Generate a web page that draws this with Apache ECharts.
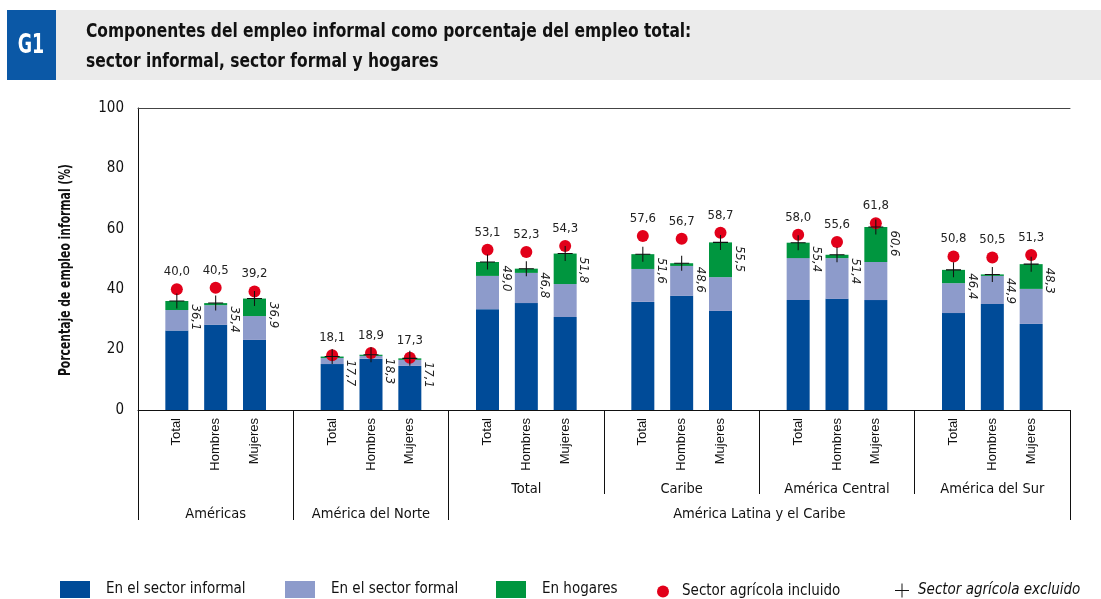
<!DOCTYPE html>
<html>
<head>
<meta charset="utf-8">
<script src="https://cdn.jsdelivr.net/npm/echarts@6/dist/echarts.min.js"></script>
<style>
  html, body { margin: 0; padding: 0; background: #fff; }
  #chart { width: 1101px; height: 599px; }
</style>
</head>
<body>
<div id="chart"></div>
<script>
// data, in group order: Total / Hombres / Mujeres for each region
const groups = ['Américas', 'América del Norte', 'Total', 'Caribe', 'América Central', 'América del Sur'];
const lacLabel = 'América Latina y el Caribe';
const subLabels = ['Total', 'Hombres', 'Mujeres'];

const informal = [26.3, 28.2, 23.2, 15.2, 17.0, 14.6, 33.4, 35.4, 30.8, 35.8, 37.8, 32.8, 36.4, 36.8, 36.4, 32.1, 35.1, 28.5];
const formal   = [6.8, 6.5, 7.9, 2.0, 0.9, 2.0, 11.0, 10.0, 10.9, 10.9, 9.9, 11.2, 13.9, 13.5, 12.6, 9.9, 9.3, 11.6];
const hogares  = [3.0, 0.7, 5.8, 0.5, 0.4, 0.5, 4.6, 1.4, 10.1, 4.9, 0.9, 11.5, 5.1, 1.1, 11.6, 4.4, 0.5, 8.2];
const agriIncl = [40.0, 40.5, 39.2, 18.1, 18.9, 17.3, 53.1, 52.3, 54.3, 57.6, 56.7, 58.7, 58.0, 55.6, 61.8, 50.8, 50.5, 51.3];
const agriExcl = [36.1, 35.4, 36.9, 17.7, 18.3, 17.1, 49.0, 46.8, 51.8, 51.6, 48.6, 55.5, 55.4, 51.4, 60.6, 46.4, 44.9, 48.3];

const yTicks = { min: 0, max: 100, interval: 20 };
const yTitle = 'Porcentaje de empleo informal (%)';

const COND = "'DejaVu Sans Condensed', 'Liberation Sans Narrow', sans-serif";
const C_INF = '#004b98';
const C_FOR = '#8d9bcb';
const C_HOG = '#00963f';
const C_RED = '#e2001a';
const PLUS = 'path://M0,9.3h20v1.4h-20z M9.3,0h1.4v20h-1.4z';

// slots: a blank slot before, between and after each group of three
const slots = [];
const level1 = [];
const level2 = [];
const level3 = [];
groups.forEach((g, gi) => {
  slots.push('gap' + gi); level1.push(''); level2.push(''); level3.push('');
  subLabels.forEach((s, si) => {
    slots.push(g + '|' + s);
    level1.push(s);
    level2.push(gi >= 2 && si === 1 ? g : '');
    level3.push(gi < 2 && si === 1 ? g : '');
  });
});
slots.push('end'); level1.push(''); level2.push(''); level3.push('');
level3[16] = lacLabel;
const bigTicks = [0, 4, 8, 24];
const smallTicks = [12, 16, 20];

function spread(vals) {
  const out = [];
  let k = 0;
  slots.forEach((s, i) => {
    if (i % 4 === 0) out.push('-');
    else out.push(vals[k++]);
  });
  return out;
}
const fmt = v => v.toFixed(1).replace('.', ',');

const chart = echarts.init(document.getElementById('chart'), null, { renderer: 'canvas' });

const baseX = {
  type: 'category',
  data: slots,
  boundaryGap: false,
  position: 'bottom',
  axisLine: { show: false },
  axisTick: { show: false },
  axisLabel: { show: false },
  splitLine: { show: false }
};

function legendItem(name, left, top, w, h, icon, extraText) {
  return {
    data: [{ name: name, icon: icon }],
    left: left, top: top, itemWidth: w, itemHeight: h,
    padding: 0, itemGap: 0, selectedMode: false,
    textStyle: Object.assign({ fontSize: 15, color: '#111', fontFamily: COND, padding: [0, 0, 0, 11] }, extraText || {})
  };
}

const option = {
  animation: false,
  textStyle: { fontFamily: COND },
  grid: { left: 138, right: 31, top: 108, bottom: 189, containLabel: false },
  graphic: [
    { type: 'rect', shape: { x: 55, y: 10, width: 1046, height: 70 }, style: { fill: '#ebebeb' }, silent: true },
    { type: 'rect', shape: { x: 7, y: 10, width: 49, height: 70 }, style: { fill: '#0b58a6' }, silent: true },
    { type: 'text', x: 31, y: 46, scaleX: 0.72, style: { text: 'G1', fill: '#fff', font: "bold 27px " + COND, textAlign: 'center', textVerticalAlign: 'middle' } },
    { type: 'text', x: 86, y: 32, scaleX: 0.86, style: { text: 'Componentes del empleo informal como porcentaje del empleo total:', fill: '#111', font: "bold 20px " + COND, textVerticalAlign: 'middle' } },
    { type: 'text', x: 86, y: 62, scaleX: 0.86, style: { text: 'sector informal, sector formal y hogares', fill: '#111', font: "bold 20px " + COND, textVerticalAlign: 'middle' } },
    { type: 'text', x: 66, y: 270, rotation: Math.PI / 2, scaleX: 0.8, style: { text: yTitle, fill: '#111', font: "bold 15px " + COND, textAlign: 'center', textVerticalAlign: 'middle' } }
  ],
  xAxis: [
    Object.assign({}, baseX, {
      axisLine: { show: true, lineStyle: { color: '#111', width: 1 } },
      axisTick: { show: true, length: 110, interval: (i) => bigTicks.includes(i), lineStyle: { color: '#111' } },
      axisLabel: {
        show: true, interval: 0, rotate: 90, margin: 8,
        formatter: (v, i) => level1[i],
        fontFamily: "'Liberation Sans', Arial, sans-serif", fontSize: 13, color: '#111'
      }
    }),
    Object.assign({}, baseX, {
      axisTick: { show: true, length: 84, interval: (i) => smallTicks.includes(i), lineStyle: { color: '#111' } },
      axisLabel: { show: true, interval: 0, margin: 72, formatter: (v, i) => level2[i], fontSize: 14.5, color: '#111' }
    }),
    Object.assign({}, baseX, {
      axisLabel: { show: true, interval: 0, margin: 97, formatter: (v, i) => level3[i], fontSize: 14.5, color: '#111' }
    }),
    Object.assign({}, baseX, {
      position: 'top',
      axisLine: { show: true, lineStyle: { color: '#444', width: 1 } }
    })
  ],
  yAxis: {
    type: 'value',
    min: yTicks.min, max: yTicks.max, interval: yTicks.interval,
    axisLine: { show: true, lineStyle: { color: '#111' } },
    axisTick: { show: false },
    splitLine: { show: false },
    axisLabel: { fontSize: 15, color: '#111', margin: 14 }
  },
  legend: [
    legendItem('En el sector informal', 60, 581, 30, 17, 'rect'),
    legendItem('En el sector formal', 285, 581, 30, 17, 'rect'),
    legendItem('En hogares', 496, 581, 30, 17, 'rect'),
    legendItem('Sector agrícola incluido', 657, 584, 12, 12, 'circle', { padding: [0, 0, 0, 8] }),
    legendItem('Sector agrícola excluido', 895, 583, 14, 14, PLUS, { fontStyle: 'italic', padding: [0, 0, 0, 4] })
  ],
  series: [
    { name: 'En el sector informal', type: 'bar', stack: 'emp', barWidth: 23, data: spread(informal), itemStyle: { color: C_INF } },
    { name: 'En el sector formal', type: 'bar', stack: 'emp', barWidth: 23, data: spread(formal), itemStyle: { color: C_FOR } },
    { name: 'En hogares', type: 'bar', stack: 'emp', barWidth: 23, data: spread(hogares), itemStyle: { color: C_HOG } },
    {
      name: 'Sector agrícola incluido', type: 'scatter', symbol: 'circle', symbolSize: 12,
      data: spread(agriIncl), itemStyle: { color: C_RED, opacity: 1 }, z: 5,
      label: { show: true, position: 'top', distance: 5, formatter: p => fmt(p.value), fontSize: 13, color: '#222' }
    },
    {
      name: 'Sector agrícola excluido', type: 'scatter', symbol: PLUS, symbolSize: 15,
      data: spread(agriExcl), itemStyle: { color: '#111', opacity: 1 }, z: 6,
      label: {
        show: true, position: [26, 11], rotate: -90, align: 'left', verticalAlign: 'middle',
        formatter: p => fmt(p.value), fontSize: 13, fontStyle: 'italic', color: '#222'
      }
    }
  ]
};

chart.setOption(option);
</script>
</body>
</html>
